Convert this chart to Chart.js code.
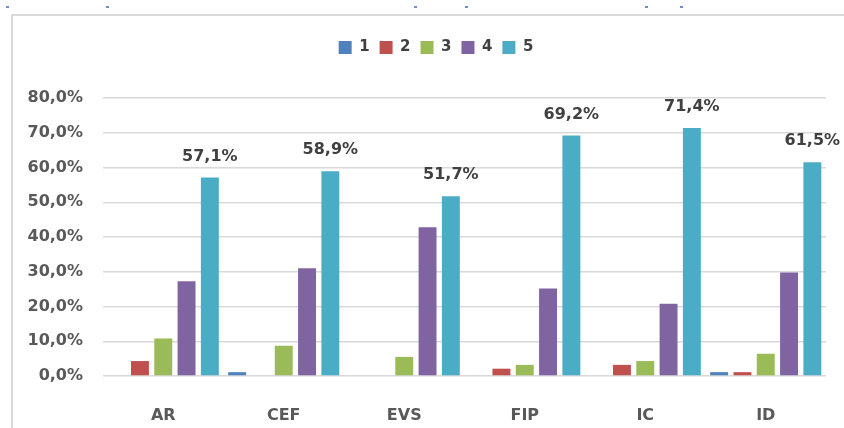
<!DOCTYPE html>
<html>
<head>
<meta charset="utf-8">
<title>Chart</title>
<script src="https://cdn.jsdelivr.net/npm/chart.js@4/dist/chart.umd.min.js"></script>
<style>
  html, body { margin: 0; padding: 0; background: #fff; }
  canvas { display: block; }
</style>
</head>
<body>
<canvas id="chart" width="844" height="428"></canvas>
<script>
  // Data
  const categories = ['AR', 'CEF', 'EVS', 'FIP', 'IC', 'ID'];
  const seriesNames = ['1', '2', '3', '4', '5'];
  const series1 = [0, 1.1, 0, 0, 0, 1.1];
  const series2 = [4.3, 0, 0, 2.1, 3.2, 1.1];
  const series3 = [10.8, 8.7, 5.5, 3.2, 4.3, 6.4];
  const series4 = [27.3, 31.0, 42.8, 25.2, 20.8, 29.8];
  const series5 = [57.1, 58.9, 51.7, 69.2, 71.4, 61.5];
  const yTicks = [0, 10, 20, 30, 40, 50, 60, 70, 80];

  const colors = ['#4f81bd', '#c0504d', '#9bbb59', '#8064a2', '#4bacc6'];
  const allSeries = [series1, series2, series3, series4, series5];

  const pct = v => v.toFixed(1).replace('.', ',') + '%';

  // frame + little marks at top of the clipping
  const frame = {
    id: 'frame',
    beforeDraw(chart) {
      const ctx = chart.ctx;
      ctx.save();
      ctx.strokeStyle = '#d9d9d9';
      ctx.lineWidth = 2;
      ctx.beginPath();
      ctx.moveTo(12, 428);
      ctx.lineTo(12, 15);
      ctx.lineTo(844, 15);
      ctx.stroke();
      ctx.fillStyle = '#6d8fc9';
      [7, 107, 415, 466, 646, 681].forEach(x => ctx.fillRect(x - 1, 6, 3, 2));
      ctx.restore();
    }
  };

  // extra room under the legend, and nudge it right
  const legendSpacer = {
    id: 'legendSpacer',
    beforeInit(chart) {
      const fit = chart.legend.fit;
      chart.legend.fit = function() {
        fit.call(this);
        this.height += 33;
      };
    },
    afterLayout(chart) {
      chart.legend.left += 23;
      chart.legend.right += 23;
    }
  };

  // value labels above series 5
  const valueLabels = {
    id: 'valueLabels',
    afterDatasetsDraw(chart) {
      const ctx = chart.ctx;
      const meta = chart.getDatasetMeta(4);
      ctx.save();
      ctx.font = 'bold 16px "DejaVu Sans"';
      ctx.fillStyle = '#404040';
      ctx.textAlign = 'center';
      ctx.textBaseline = 'alphabetic';
      meta.data.forEach((bar, i) => {
        ctx.fillText(pct(series5[i]), bar.x, bar.y - 17);
      });
      ctx.restore();
    }
  };

  new Chart(document.getElementById('chart'), {
    type: 'bar',
    data: {
      labels: categories,
      datasets: allSeries.map((data, i) => ({
        label: seriesNames[i],
        data: data,
        backgroundColor: colors[i],
        borderColor: colors[i],
        borderWidth: 0,
        categoryPercentage: 0.967,
        barPercentage: 0.77
      }))
    },
    options: {
      responsive: false,
      animation: false,
      layout: { padding: { top: 30, left: 0, right: 18, bottom: 0 } },
      plugins: {
        legend: {
          position: 'top',
          labels: {
            boxWidth: 13,
            boxHeight: 13,
            padding: 10,
            color: '#404040',
            font: { family: '"DejaVu Sans"', size: 15, weight: 'bold' }
          }
        },
        tooltip: { enabled: false }
      },
      scales: {
        x: {
          grid: { display: false },
          border: { display: false },
          ticks: {
            padding: 22,
            color: '#595959',
            font: { family: '"DejaVu Sans"', size: 16, weight: 'bold' }
          },
          afterFit: scale => { scale.height = 52; }
        },
        y: {
          min: 0,
          max: 80,
          afterBuildTicks: scale => { scale.ticks = yTicks.map(v => ({ value: v })); },
          grid: { color: '#d9d9d9', lineWidth: 1.5, drawTicks: false },
          border: { display: false },
          ticks: {
            padding: 20,
            color: '#595959',
            font: { family: '"DejaVu Sans"', size: 16, weight: 'bold' },
            callback: v => pct(v)
          },
          afterFit: scale => { scale.width = 103; }
        }
      }
    },
    plugins: [frame, legendSpacer, valueLabels]
  });
</script>
</body>
</html>
